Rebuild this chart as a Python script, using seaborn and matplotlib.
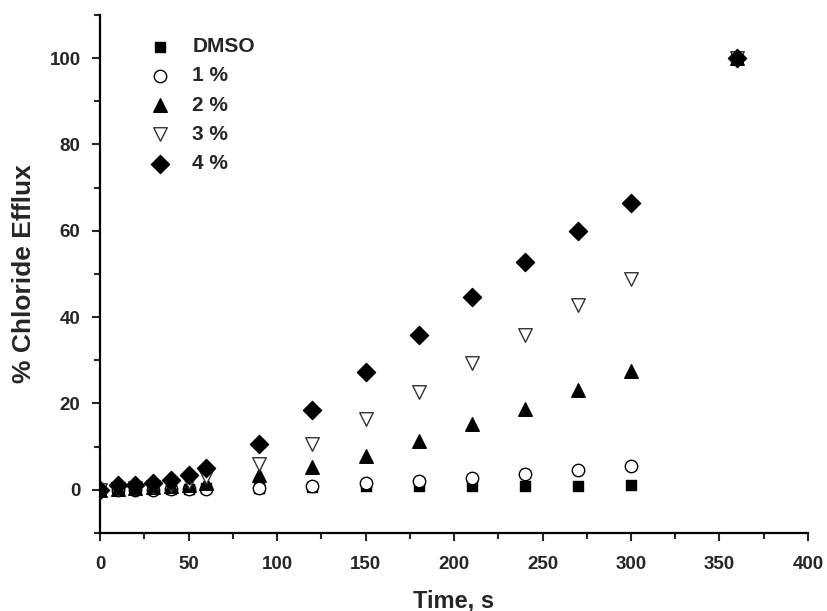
import matplotlib
matplotlib.use("Agg")
import matplotlib.pyplot as plt
import seaborn as sns
import pandas as pd
import numpy as np
from matplotlib.ticker import MultipleLocator

time_s = [0, 10, 20, 30, 40, 50, 60, 90, 120, 150, 180, 210, 240, 270, 300, 360]
series_names = ["DMSO", "1 %", "2 %", "3 %", "4 %"]
dmso = [0, 0.1, 0.2, 0.2, 0.3, 0.3, 0.4, 0.5, 0.7, 0.8, 0.8, 0.9, 0.9, 0.9, 1.1, 100]
pct1 = [0, 0, 0, 0, 0.2, 0.3, 0.3, 0.5, 0.8, 1.5, 2.0, 2.8, 3.6, 4.7, 5.5, 100]
pct2 = [0, 0.3, 0.5, 0.6, 0.8, 1.0, 1.5, 3.5, 5.3, 7.9, 11.4, 15.3, 18.8, 23.0, 27.4, 100]
pct3 = [0, 0.3, 0.5, 0.7, 1.0, 1.8, 3.0, 6.0, 10.5, 16.5, 22.6, 29.3, 35.8, 42.8, 48.8, 100]
pct4 = [0, 1.0, 1.2, 1.5, 2.3, 3.5, 5.0, 10.5, 18.4, 27.2, 35.8, 44.7, 52.8, 60.0, 66.5, 100]
values = [dmso, pct1, pct2, pct3, pct4]

markers = ["s", "o", "^", "v", "D"]
faces = ["black", "white", "black", "white", "black"]
edges = ["black", "black", "black", "#333333", "black"]
sizes = [50, 80, 95, 95, 85]

sns.set_style("ticks")
plt.rcParams["font.family"] = ["Liberation Sans", "DejaVu Sans"]
plt.rcParams["font.weight"] = "bold"

fig = plt.figure(figsize=(8.27, 6.11), dpi=100)
ax = fig.add_axes([0.121, 0.1277, 0.856, 0.848])

for name, vals, m, fc, ec, s in zip(series_names, values, markers, faces, edges, sizes):
    df = pd.DataFrame({"Time": time_s, "Efflux": vals})
    sns.scatterplot(data=df, x="Time", y="Efflux", marker=m, s=s,
                    facecolor=fc, edgecolor=ec, linewidth=1.0, ax=ax,
                    label=name, zorder=3)

ax.set_xlim(0, 400)
ax.set_ylim(-10, 110)
ax.xaxis.set_major_locator(MultipleLocator(50))
ax.xaxis.set_minor_locator(MultipleLocator(25))
ax.yaxis.set_major_locator(MultipleLocator(20))
ax.yaxis.set_minor_locator(MultipleLocator(10))
ax.set_yticks([0, 20, 40, 60, 80, 100])

for side in ["top", "right"]:
    ax.spines[side].set_visible(False)
for side in ["left", "bottom"]:
    ax.spines[side].set_linewidth(1.6)
    ax.spines[side].set_color("black")

ax.tick_params(which="major", direction="out", length=6, width=1.5, labelsize=13.5)
ax.tick_params(axis="x", which="major", pad=10.5)
ax.tick_params(axis="y", which="major", pad=8)
ax.tick_params(which="minor", direction="out", length=4, width=1.5)
for lbl in ax.get_xticklabels() + ax.get_yticklabels():
    lbl.set_fontweight("bold")

ax.set_xlabel("Time, s", fontsize=17, fontweight="bold", labelpad=12)
ax.set_ylabel("% Chloride Efflux", fontsize=19, fontweight="bold", labelpad=10)

leg = ax.legend(loc="upper left", bbox_to_anchor=(0.044, 0.973), frameon=False,
                fontsize=15, handletextpad=0.54, labelspacing=0.49,
                borderaxespad=0, markerscale=1.0)
for t in leg.get_texts():
    t.set_fontweight("bold")

fig.savefig("out.png", dpi=100)
